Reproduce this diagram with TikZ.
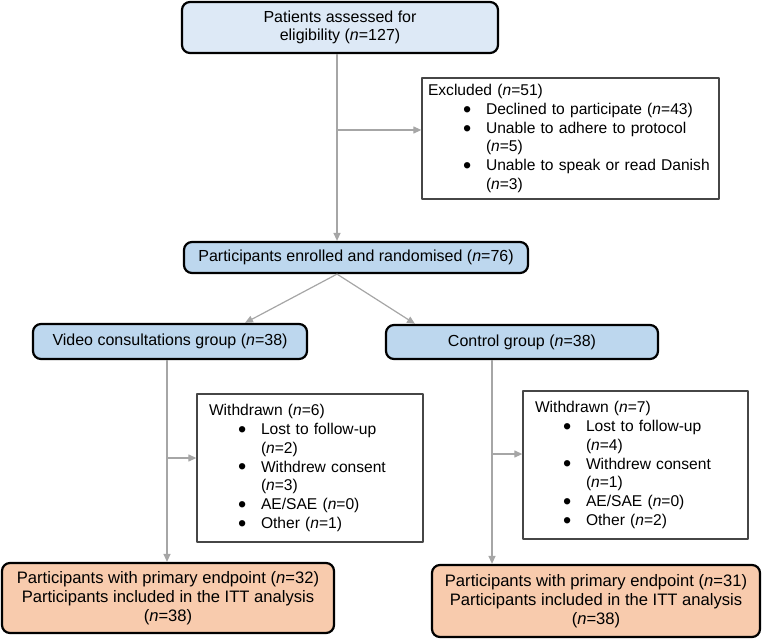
\documentclass[tikz,border=0pt]{standalone}
\usepackage{fontspec}
\setmainfont{Liberation Sans}
\usetikzlibrary{arrows.meta}
\definecolor{paleblue}{RGB}{221,233,246}
\definecolor{midblue}{RGB}{189,215,238}
\definecolor{peach}{RGB}{248,203,173}
\definecolor{linegray}{RGB}{166,166,166}
\definecolor{framegray}{RGB}{70,70,70}
\newcommand{\nn}{\textit{n}}
% bullet item and its continuation line, indented from the heading
\newcommand{\blob}{\raisebox{-0.35ex}[0pt][0pt]{\scalebox{1.5}{\textbullet}}}
\newcommand{\itm}[2][29pt]{\hspace*{#1}\makebox[23pt][l]{\blob}\mbox{#2}}
\newcommand{\cont}[2][29pt]{\hspace*{\dimexpr#1+23pt\relax}\mbox{#2}}

\begin{document}
\begin{tikzpicture}[x=1pt, y=-1pt, line join=round, >={Triangle[length=8pt,width=7pt]},
	font=\fontsize{16}{18.7}\selectfont,
	stage/.style={draw=black, line width=2.2pt, rounded corners=8pt, align=center, inner sep=0pt},
	endbox/.style={stage, fill=peach, font=\fontsize{16.6}{19}\selectfont},
	outbox/.style={draw=framegray, line width=1.3pt, fill=white, align=left, inner xsep=#1, inner ysep=0pt,
		font=\fontsize{15.6}{18.7}\selectfont},
	conn/.style={draw=linegray, line width=1.2pt, ->}]
	\useasboundingbox (0,0) rectangle (762,639);
	% main stages
	\node[stage, fill=paleblue, minimum width=316pt, minimum height=51pt] (assess) at (340,27.5) {Patients assessed for\\eligibility (\nn=127)};
	\node[stage, fill=midblue, minimum width=344pt, minimum height=31pt] (enrol) at (356,257.5) {Participants enrolled and randomised (\nn=76)};
	\node[stage, fill=midblue, minimum width=274pt, minimum height=35pt] (video) at (170,341.5) {Video consultations group (\nn=38)};
	\node[stage, fill=midblue, minimum width=272pt, minimum height=34pt] (ctrl) at (522,342) {Control group (\nn=38)};
	\node[endbox, minimum width=332pt, minimum height=70pt] (endl) at (168,598) {Participants with primary endpoint (\nn=32)\\Participants included in the ITT analysis\\(\nn=38)};
	\node[endbox, minimum width=328pt, minimum height=72pt] (endr) at (596,601) {Participants with primary endpoint (\nn=31)\\Participants included in the ITT analysis\\(\nn=38)};
	% side boxes
	\node[outbox=6pt, text width=285pt, minimum height=121pt] (excl) at (570.5,138.5) {Excluded (\nn=51)\\
		\itm[35pt]{Declined to participate (\nn=43)}\\
		\itm[35pt]{Unable to adhere to protocol}\\
		\cont[35pt]{(\nn=5)}\\
		\itm[35pt]{Unable to speak or read Danish}\\
		\cont[35pt]{(\nn=3)}};
	\node[outbox=12pt, text width=202pt, minimum height=148pt] (wdl) at (310,468) {Withdrawn (\nn=6)\\
		\itm{Lost to follow-up}\\
		\cont{(\nn=2)}\\
		\itm{Withdrew consent}\\
		\cont{(\nn=3)}\\
		\itm{AE/SAE (\nn=0)}\\
		\itm{Other (\nn=1)}};
	\node[outbox=12pt, text width=201pt, minimum height=148pt] (wdr) at (635.5,465) {Withdrawn (\nn=7)\\
		\itm[28pt]{Lost to follow-up}\\
		\cont[28pt]{(\nn=4)}\\
		\itm[28pt]{Withdrew consent}\\
		\cont[28pt]{(\nn=1)}\\
		\itm[28pt]{AE/SAE (\nn=0)}\\
		\itm[28pt]{Other (\nn=2)}};
	% connectors
	\coordinate (spine) at (337,0);
	\coordinate (lspine) at (167,0);
	\coordinate (rspine) at (492,0);
	\coordinate (exclin) at ([yshift=8.5pt]excl.west);
	\coordinate (wdlin) at ([yshift=10pt]wdl.west);
	\coordinate (wdrin) at ([yshift=11pt]wdr.west);
	\coordinate (vidin) at ([xshift=75pt]video.north);
	\coordinate (ctrlin) at ([xshift=-107pt]ctrl.north);
	\draw[conn] (assess.south -| spine) -- (enrol.north -| spine);
	\draw[conn] (spine |- exclin) -- (exclin);
	\draw[conn] (enrol.south -| spine) -- (vidin);
	\draw[conn] (enrol.south -| spine) -- (ctrlin);
	\draw[conn] (video.south -| lspine) -- (endl.north -| lspine);
	\draw[conn] (lspine |- wdlin) -- (wdlin);
	\draw[conn] (ctrl.south -| rspine) -- (endr.north -| rspine);
	\draw[conn] (rspine |- wdrin) -- (wdrin);
\end{tikzpicture}
\end{document}
